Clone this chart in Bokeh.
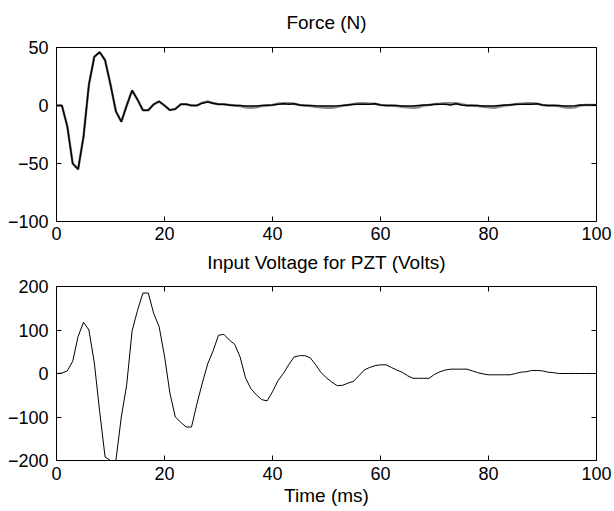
from bokeh.plotting import figure
from bokeh.layouts import column
from bokeh.models import LinearAxis, FixedTicker, Range1d
from bokeh.embed import file_html
from bokeh.resources import INLINE

time_ms = list(range(0, 101))

force_measured = [0, 0, -18, -50, -55, -27, 18, 42, 46, 39, 18, -5, -14, 0, 13, 5, -4, -4, 1, 3.5,
                  0, -4, -3, 1, 1, 0, 0, 2, 3, 2, 1, 1, 0.5, 0, 0, -0.5, -0.5, -0.5, 0, 0.3,
                  0.5, 1, 1.5, 1, 1.5, 0.5, 0, 0, -0.3, -0.5, -0.5, -0.5, -0.3, 0, 0.5, 1, 1, 1, 1, 1.5,
                  0.5, 0, 0, 0, -0.5, -0.5, -0.5, 0, 0.5, 0.5, 1, 1, 1, 0.5, 1.5, 0.5, 0, 0, 0, -0.5,
                  -0.5, -0.5, 0, 0.5, 0.5, 1, 1, 1, 1, 1.5, 0.5, 0, 0, 0, -0.5, -0.5, -0.3, 0.5, 0.5, 0.5,
                  0.5]

force_reference = [0, 0, -18, -50, -55, -27, 18, 42, 46, 39, 18, -5, -14, 0, 13, 5, -4, -4, 1, 3.5,
                   0, -4, -3, 1, 1, 0, 0, 2.5, 3.5, 2, 1, 1, 0.5, 0, -0.5, -1.5, -2, -1.5, -0.5, 0,
                   0.5, 1.5, 2, 2, 1.5, 0.5, 0, -0.5, -1, -1.5, -2, -2, -1, 0, 0.5, 1, 2, 2, 1.5, 1.5,
                   0.5, 0, 0, -0.5, -1, -1.5, -2, -1.5, 0, 0.5, 1, 1.5, 2, 2, 2, 1, 0, 0, -0.5, -1,
                   -1.5, -2, -1, 0, 0.5, 1, 1.5, 2, 2, 1.5, 0.5, 0, 0, -0.5, -1.5, -2, -1.5, 0, 0.5, 0.5,
                   0.5]

voltage = [0, 1, 6, 28, 85, 118, 100, 25, -88, -192, -200, -200, -100, -26, 98, 145, 185, 185, 138, 108,
           40, -45, -100, -112, -123, -123, -70, -22, 22, 52, 88, 90, 77, 67, 38, -10, -35, -49, -60, -63,
           -42, -17, 0, 20, 38, 41, 41, 36, 20, 2, -10, -20, -28, -27, -22, -18, -5, 8, 14, 18,
           20, 20, 14, 8, 3, -5, -11, -11, -11, -11, -2, 4, 8, 10, 10, 10, 10, 6, 2, -1,
           -3, -3, -3, -3, -3, 0, 3, 4, 7, 7, 6, 3, 2, 0, 0, 0, 0, 0, 0, 0,
           0]

x_ticks = [0, 20, 40, 60, 80, 100]
force_ticks = [-100, -50, 0, 50]
voltage_ticks = [-200, -100, 0, 100, 200]

titles = ["Force (N)", "Input Voltage for PZT (Volts)"]
x_label = "Time (ms)"

FONT = "Liberation Sans"
TICK_SIZE = "18px"
LABEL_SIZE = "19px"


def style(p, yticks, title, title_standoff, xlabel_standoff):
    p.xgrid.visible = False
    p.ygrid.visible = False
    p.outline_line_color = "black"
    p.outline_line_width = 1
    p.background_fill_color = "white"
    p.border_fill_color = "white"
    bottom = p.below[0]
    left = p.left[0]
    bottom.ticker = FixedTicker(ticks=x_ticks)
    left.ticker = FixedTicker(ticks=yticks)
    right = LinearAxis(ticker=FixedTicker(ticks=yticks),
                       major_label_overrides={t: "" for t in yticks})
    top = LinearAxis(ticker=FixedTicker(ticks=x_ticks),
                     major_label_overrides={t: "" for t in x_ticks})
    p.add_layout(right, "right")
    p.add_layout(top, "above")
    for ax in (bottom, left, right, top):
        ax.axis_line_color = None
        ax.major_tick_in = 5
        ax.major_tick_out = 0
        ax.major_tick_line_color = "black"
        ax.minor_tick_line_color = None
        ax.major_label_text_font = FONT
        ax.major_label_text_font_size = TICK_SIZE
        ax.major_label_text_color = "black"
        ax.major_label_standoff = 6
        ax.axis_label_text_font = FONT
        ax.axis_label_text_font_size = LABEL_SIZE
        ax.axis_label_text_font_style = "normal"
        ax.axis_label_text_color = "black"
    left.major_label_standoff = 8
    bottom.major_label_standoff = xlabel_standoff
    for ax in (right, top):
        ax.major_label_standoff = 0
        ax.major_label_text_font_size = "1px"
    top.axis_label = title
    top.axis_label_standoff = title_standoff
    return bottom


p1 = figure(width=612, height=247, output_backend="svg", toolbar_location=None,
            x_range=Range1d(0, 100), y_range=Range1d(-100, 50),
            min_border_left=56, min_border_right=16, min_border_top=47, min_border_bottom=26)
p1.line(time_ms, force_reference, line_color="#8a8a8a", line_width=2.5)
p1.line(time_ms, force_measured, line_color="black", line_width=1.5)
style(p1, force_ticks, titles[0], 15, 5)

p2 = figure(width=612, height=262, output_backend="svg", toolbar_location=None,
            x_range=Range1d(0, 100), y_range=Range1d(-200, 200),
            min_border_left=56, min_border_right=16, min_border_top=39, min_border_bottom=49)
p2.line(time_ms, voltage, line_color="black", line_width=1)
xb = style(p2, voltage_ticks, titles[1], 14, 6)
xb.axis_label = x_label
xb.axis_label_standoff = 2

layout = column(p1, p2)
open("out.html", "w").write(file_html(layout, INLINE))
